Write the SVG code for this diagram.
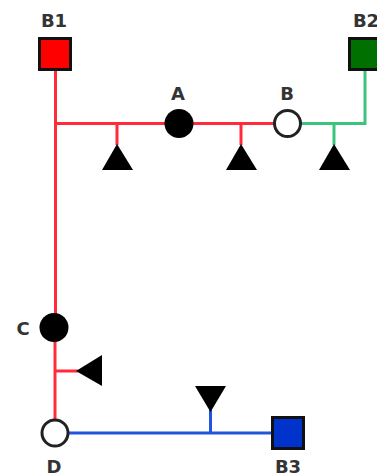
<svg xmlns="http://www.w3.org/2000/svg" width="377" height="474" viewBox="0 0 377 474">
<style>
.r{stroke:#ff2a3a;fill:none;stroke-width:3}
.g{stroke:#3cc47c;fill:none;stroke-width:3}
.b{stroke:#2255dd;fill:none;stroke-width:3}
.s{stroke:#111;stroke-width:3}
.o{fill:#fff;stroke:#222;stroke-width:3}
.k{fill:#000}
text{font-family:"DejaVu Sans",sans-serif;font-size:18px;font-weight:bold;fill:#333;text-anchor:middle}
</style>
<rect width="377" height="474" fill="#fff"/>
<g id="connectors">
<path class="r" d="M55.500 70V328M55.500 123.500H179M117 123.500V145M179 123.500H288M241 123.500V145"/>
<path class="g" d="M288 123.500H365V70M334 123.500V145"/>
<path class="r" d="M55 328V433M55 371H78"/>
<path class="b" d="M55 433H288M210.500 433V410"/>
</g>
<g id="B1"><rect class="s" x="39.500" y="38.500" width="31" height="31" fill="#f00"/><text x="54" y="27">B1</text></g>
<g id="B2"><rect class="s" x="349.500" y="38.500" width="31" height="31" fill="#007000"/><text x="366" y="27">B2</text></g>
<g id="B3"><rect class="s" x="272.500" y="417.500" width="31" height="31" fill="#0033cc"/><text x="288" y="473">B3</text></g>
<g id="A"><circle class="k" cx="179" cy="123.500" r="14.500"/><text x="178" y="100">A</text></g>
<g id="B"><circle class="o" cx="287.500" cy="123.500" r="13"/><text x="287" y="100">B</text></g>
<g id="C"><circle class="k" cx="54" cy="327.500" r="14.500"/><text x="23" y="335">C</text></g>
<g id="D"><circle class="o" cx="55" cy="433" r="13"/><text x="54" y="473">D</text></g>
<g id="T1"><polygon class="k" points="117,144 133,170 102,170"/></g>
<g id="T2"><polygon class="k" points="241,144 257,170 226,170"/></g>
<g id="T3"><polygon class="k" points="334,144 350,170 319,170"/></g>
<g id="T4"><polygon class="k" points="76,371 102,355 102,386"/></g>
<g id="T5"><polygon class="k" points="210.500,412 195,386 226,386"/></g>
</svg>
